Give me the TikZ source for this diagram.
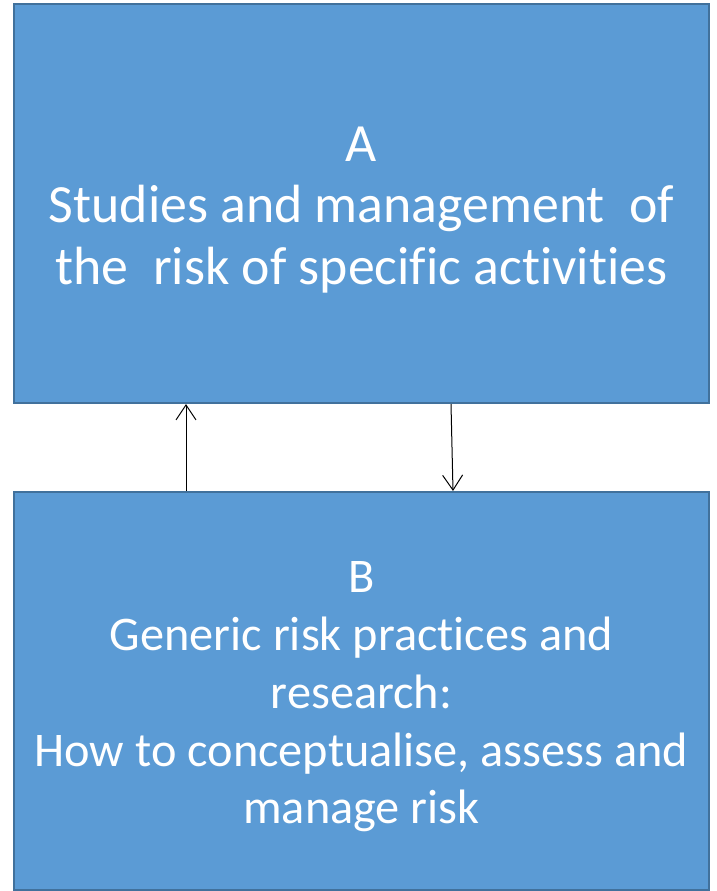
\documentclass[tikz,border=0pt]{standalone}
\usepackage{fontspec}
\setmainfont{Carlito}[Ligatures=CommonOff]
\usetikzlibrary{arrows.meta}
\definecolor{boxfill}{HTML}{5B9BD5}
\definecolor{boxline}{HTML}{41719C}
\begin{document}
\begin{tikzpicture}[x=1bp,y=-1bp,
  panel/.style={draw=boxline, line width=2bp, fill=boxfill, text=white,
    minimum width=695bp, inner sep=0pt, align=center},
  link/.style={line width=1bp, -{Straight Barb[length=15bp,width=20bp,line width=1bp]}}]
\useasboundingbox (0,0) rectangle (717,891);
\node[panel, minimum height=399bp] (A) at (361.5,203.5) {};
\node[panel, minimum height=398bp] (B) at (361.5,691) {};
\node[text=white, align=center, inner sep=0pt, font=\fontsize{54}{61.5}\selectfont] (tA) at (361.5,210)
  {A\\Studies and management\ \ of\\the\ \ risk of specific activities};
\node[text=white, align=center, inner sep=0pt, font=\fontsize{48.5}{58}\selectfont] (tB) at (361.5,697)
  {B\\Generic risk practices and\\research:\\How to conceptualise, assess and\\manage risk};
\draw[link] ([xshift=173bp]B.north west) -- ([xshift=173bp]A.south west);
\draw[link] ([xshift=438bp]A.south west) -- ([xshift=440bp]B.north west);
\end{tikzpicture}
\end{document}
